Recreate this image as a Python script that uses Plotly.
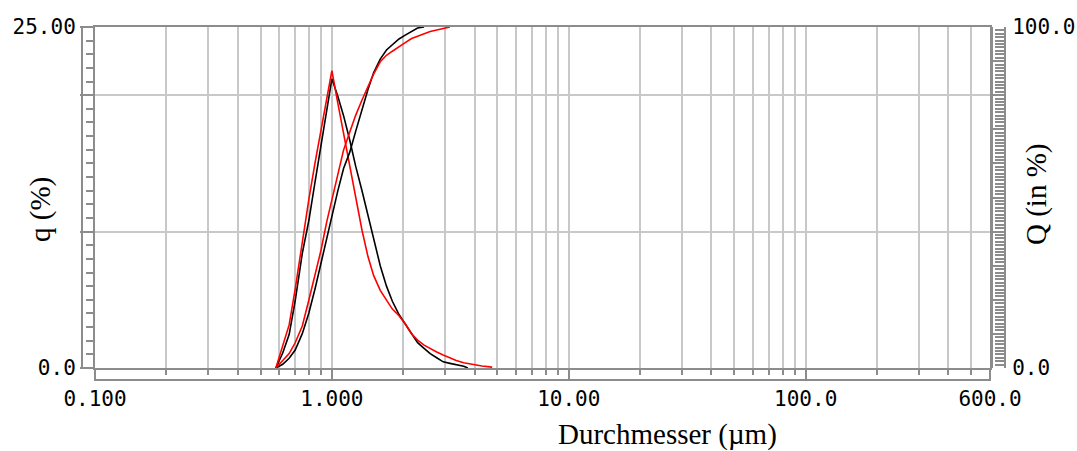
import math
import plotly.graph_objects as go

# particle size classes (µm)
sizes = [0.58, 0.62, 0.66, 0.70, 0.75, 0.80, 0.85, 0.90, 0.95, 1.00,
         1.06, 1.12, 1.19, 1.26, 1.34, 1.42, 1.50, 1.60, 1.70, 1.80,
         1.92, 2.04, 2.17, 2.30, 2.45, 2.60, 2.77, 2.95, 3.15, 3.35,
         3.60, 3.75, 4.00, 4.30, 4.65, 4.75]

# density q (%) and cumulative Q (%) - black and red measurements
q_black = [0, 1.10, 2.45, 4.93, 8.4, 10.85, 13.7, 16.3, 18.8, 21.2,
           19.9, 18.5, 16.7, 14.8, 13.0, 11.2, 9.4, 7.5, 6.0, 4.89,
           3.92, 3.25, 2.59, 1.86, 1.44, 1.05, 0.75, 0.45, 0.34, 0.24,
           0.13, 0.0, None, None, None, None]
q_red = [0, 1.56, 3.16, 5.78, 9.32, 12.4, 15.1, 17.55, 19.9, 21.8,
         19.4, 17.2, 14.8, 12.4, 10.1, 8.17, 6.79, 5.69, 4.94, 4.32,
         3.83, 3.24, 2.50, 2.04, 1.68, 1.41, 1.17, 0.95, 0.73, 0.55,
         0.38, 0.32, 0.22, 0.15, 0.08, 0.05]
Q_black = [0, 1.08, 2.86, 5.26, 10.08, 16.2, 23.4, 31.0, 38.3, 45.2,
           52.0, 58.5, 63.3, 69.4, 76.1, 81.7, 86.6, 90.6, 93.25, 94.9,
           96.5, 97.6, 98.8, 99.7, 100.0, None, None, None, None, None,
           None, None, None, None, None, None]
Q_red = [0, 2.03, 4.24, 7.4, 12.3, 20.0, 27.4, 34.6, 42.7, 49.4,
         56.8, 63.9, 69.2, 74.1, 78.6, 82.7, 86.2, 89.8, 91.7, 92.9,
         94.3, 95.4, 96.6, 97.3, 98.0, 98.7, 99.13, 99.6, 100.0, None,
         None, None, None, None, None, None]

x_major = [0.1, 1, 10, 100, 600]
x_major_text = ["0.100", "1.000", "10.00", "100.0", "600.0"]
x_minor = [0.2, 0.3, 0.4, 0.5, 0.6, 0.7, 0.8, 0.9,
           2, 3, 4, 5, 6, 7, 8, 9,
           20, 30, 40, 50, 60, 70, 80, 90,
           200, 300, 400, 500]
q_ticks = [0, 10, 20, 25]
q_ticktext = ["0.0", "", "", "25.00"]
Q_ticks = [0, 10, 20, 30, 40, 50, 60, 70, 80, 90, 100]
Q_ticktext = ["0.0", "", "", "", "", "", "", "", "", "", "100.0"]

W, H = 1077, 451
L, R, T, B = 95, 72, 27, 83
plot_w = W - L - R           # 910
x_dom_end = 895 / plot_w
plot_h = H - T - B           # 341

FRAME = "#8c8c8c"
GRID = "#c8c8c8"
tick_font = dict(family="DejaVu Sans Mono", size=21, color="black")
title_font = dict(family="Liberation Serif", size=29, color="black")

fig = go.Figure()
fig.add_trace(go.Scatter(x=sizes, y=q_black, mode="lines", line=dict(color="black", width=1.6),
                         xaxis="x", yaxis="y", showlegend=False))
fig.add_trace(go.Scatter(x=sizes, y=q_red, mode="lines", line=dict(color="#ff0000", width=1.6),
                         xaxis="x", yaxis="y", showlegend=False))
fig.add_trace(go.Scatter(x=sizes, y=Q_black, mode="lines", line=dict(color="black", width=1.6),
                         xaxis="x", yaxis="y2", showlegend=False))
fig.add_trace(go.Scatter(x=sizes, y=Q_red, mode="lines", line=dict(color="#ff0000", width=1.6),
                         xaxis="x", yaxis="y2", showlegend=False))

fig.update_layout(
    width=W, height=H,
    margin=dict(l=L, r=R, t=T, b=B, pad=0, autoexpand=False),
    paper_bgcolor="white", plot_bgcolor="white",
    xaxis=dict(
        type="log", range=[-1, math.log10(600)], domain=[0, x_dom_end],
        tickmode="array", tickvals=x_major, ticktext=x_major_text,
        ticks="outside", ticklen=11, tickwidth=2, tickcolor=FRAME,
        showgrid=True, gridcolor=GRID, gridwidth=2,
        showline=True, linecolor=FRAME, linewidth=2, mirror=True,
        tickfont=tick_font, ticklabelstandoff=0, automargin=False,
        minor=dict(tickmode="array", tickvals=x_minor, ticks="outside", ticklen=5,
                   tickwidth=2, tickcolor=FRAME, showgrid=True, gridcolor=GRID, gridwidth=2),
        zeroline=False, fixedrange=True,
    ),
    yaxis=dict(
        range=[0, 25], anchor="x",
        tickmode="array", tickvals=q_ticks, ticktext=q_ticktext,
        ticks="outside", ticklen=13, tickwidth=2, tickcolor=FRAME,
        showgrid=True, gridcolor=GRID, gridwidth=2,
        showline=True, linecolor=FRAME, linewidth=2, mirror=True,
        tickfont=tick_font, ticklabelstandoff=0, automargin=False,
        minor=dict(tickmode="linear", tick0=0, dtick=1, ticks="outside", ticklen=7,
                   tickwidth=2, tickcolor=FRAME, showgrid=False),
        zeroline=False, fixedrange=True,
    ),
    yaxis2=dict(
        range=[0, 100], overlaying="y", anchor="free", position=1, side="right",
        tickmode="array", tickvals=Q_ticks, ticktext=Q_ticktext,
        ticks="inside", ticklen=12, tickwidth=2, tickcolor=FRAME,
        showgrid=False, showline=True, linecolor=FRAME, linewidth=2,
        tickfont=tick_font, ticklabelstandoff=2, automargin=False,
        minor=dict(tickmode="linear", tick0=0, dtick=1, ticks="inside", ticklen=9,
                   tickwidth=2, tickcolor=FRAME, showgrid=False),
        zeroline=False, fixedrange=True,
    ),
    shapes=[
        # outer line of the left tick strip
        dict(type="line", xref="paper", yref="paper", x0=-13 / plot_w, x1=-13 / plot_w,
             y0=0, y1=1, line=dict(color=FRAME, width=2)),
        # lower line of the x tick strip
        dict(type="line", xref="paper", yref="paper", x0=0, x1=x_dom_end,
             y0=-12 / plot_h, y1=-12 / plot_h, line=dict(color=FRAME, width=2)),
        # inner line of the right tick strip
        dict(type="line", xref="paper", yref="paper", x0=897 / plot_w, x1=897 / plot_w,
             y0=0, y1=1, line=dict(color=FRAME, width=2)),
    ],
    annotations=[
        dict(text="Durchmesser (µm)", xref="paper", yref="paper",
             x=(667 - L) / plot_w, y=-(434 - (H - B)) / plot_h, xanchor="center", yanchor="middle",
             showarrow=False, font=title_font),
        dict(text="q (%)", xref="paper", yref="paper", textangle=-90,
             x=(40 - L) / plot_w, y=1 - (210 - T) / plot_h, xanchor="center", yanchor="middle",
             showarrow=False, font=title_font),
        dict(text="Q (in %)", xref="paper", yref="paper", textangle=-90,
             x=(1036 - L) / plot_w, y=1 - (195 - T) / plot_h, xanchor="center", yanchor="middle",
             showarrow=False, font=title_font),
    ],
)

fig.write_html("out.html")
